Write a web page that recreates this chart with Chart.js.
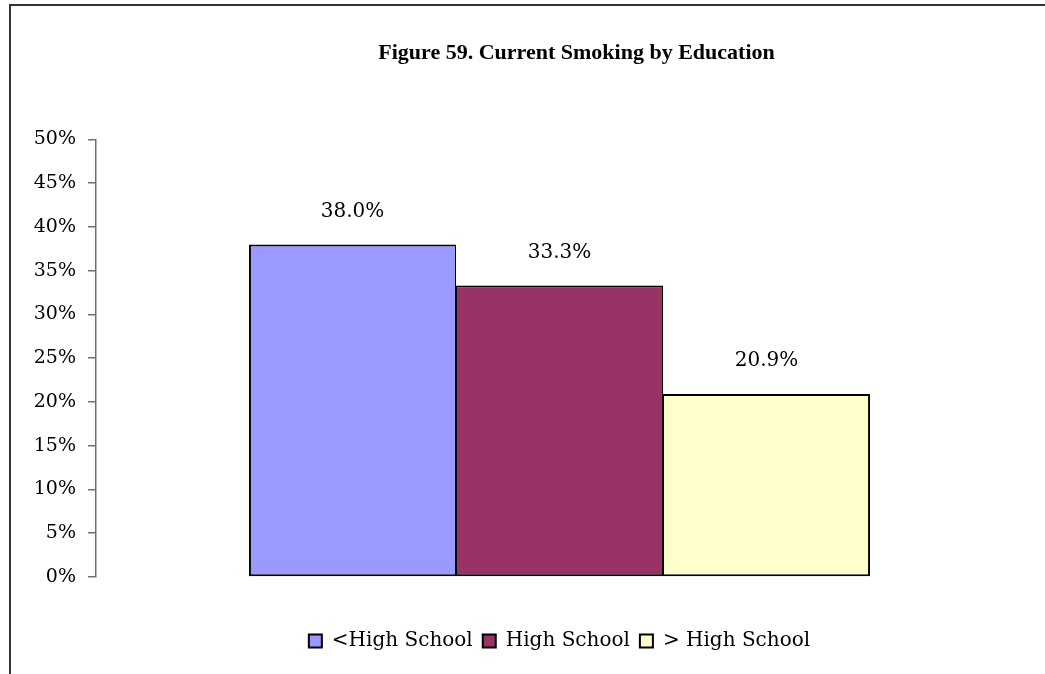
<!DOCTYPE html>
<html>
<head>
<meta charset="utf-8">
<script src="https://cdn.jsdelivr.net/npm/chart.js@4"></script>
<style>
    html, body { margin: 0; padding: 0; background: #fff; overflow: hidden; }
    #frame {
        position: absolute;
        left: 9px;
        top: 4px;
        width: 1131px;
        height: 700px;
        border-left: 2px solid #333;
        border-top: 2px solid #333;
    }
    #chart { display: block; }
</style>
</head>
<body>
<div id="frame">
    <canvas id="chart" width="1131" height="668"></canvas>
</div>
<script>
const categories = ['Education'];
const groups = ['<High School', 'High School', '> High School'];
const smokingPct = [38.0, 33.3, 20.9];
const groupColors = ['#9999FF', '#993366', '#FFFFCC'];
const yMin = 0;
const yMax = 50;
const yStep = 5;

// prints the percentage above each bar
const barValueLabels = {
    id: 'barValueLabels',
    afterDatasetsDraw(chart) {
        const ctx = chart.ctx;
        ctx.save();
        ctx.font = '20px "DejaVu Serif"';
        ctx.fillStyle = '#000';
        ctx.textAlign = 'center';
        ctx.textBaseline = 'middle';
        chart.data.datasets.forEach((ds, i) => {
            const bar = chart.getDatasetMeta(i).data[0];
            ctx.fillText(ds.data[0].toFixed(1) + '%', bar.x, bar.y - 33);
        });
        ctx.restore();
    },
};

// bars touch each other, so shared edges get half the width
function edgeWidths(i) {
    return {
        top: 2,
        bottom: 2,
        left: i === 0 ? 2 : 1,
        right: i === groups.length - 1 ? 2 : 1,
    };
}

new Chart(document.getElementById('chart').getContext('2d'), {
    type: 'bar',
    data: {
        labels: categories,
        datasets: groups.map((name, i) => ({
            label: name,
            data: [smokingPct[i]],
            backgroundColor: groupColors[i],
            borderColor: '#000',
            borderWidth: edgeWidths(i),
            borderSkipped: false,
            categoryPercentage: 0.67,
            barPercentage: 1,
        })),
    },
    options: {
        responsive: false,
        animation: false,
        layout: {
            padding: { top: 0, left: 0, right: 0, bottom: 13 },
        },
        plugins: {
            title: {
                display: true,
                text: 'Figure 59. Current Smoking by Education',
                color: '#000',
                font: { family: '"Liberation Serif"', size: 22, weight: 'bold' },
                padding: { top: 34, bottom: 73 },
            },
            legend: {
                position: 'bottom',
                fullSize: false,
                labels: {
                    color: '#000',
                    font: { family: '"DejaVu Serif"', size: 20 },
                    boxWidth: 13,
                    boxHeight: 13,
                    padding: 10,
                    generateLabels(chart) {
                        return Chart.defaults.plugins.legend.labels.generateLabels(chart)
                            .map((item) => ({ ...item, lineWidth: 2 }));
                    },
                },
            },
            tooltip: { enabled: false },
        },
        scales: {
            x: {
                ticks: { display: false },
                grid: { display: false },
                border: { display: false },
                afterFit(scale) { scale.height = 44; },
            },
            y: {
                min: yMin,
                max: yMax,
                ticks: {
                    stepSize: yStep,
                    padding: 12,
                    color: '#000',
                    font: { family: '"DejaVu Serif"', size: 19 },
                    callback: (v) => v + '%',
                },
                grid: {
                    drawOnChartArea: false,
                    drawTicks: true,
                    tickLength: 8,
                    color: '#707070',
                    lineWidth: 1.5,
                },
                border: { display: true, color: '#707070', width: 1.5 },
                afterFit(scale) { scale.width = 85; },
            },
            // empty right-hand margin so the plot stops short of the frame
            yRight: {
                position: 'right',
                min: yMin,
                max: yMax,
                ticks: { display: false },
                grid: { display: false },
                border: { display: false },
                afterFit(scale) { scale.width = 119; },
            },
        },
    },
    plugins: [barValueLabels],
});
</script>
</body>
</html>
